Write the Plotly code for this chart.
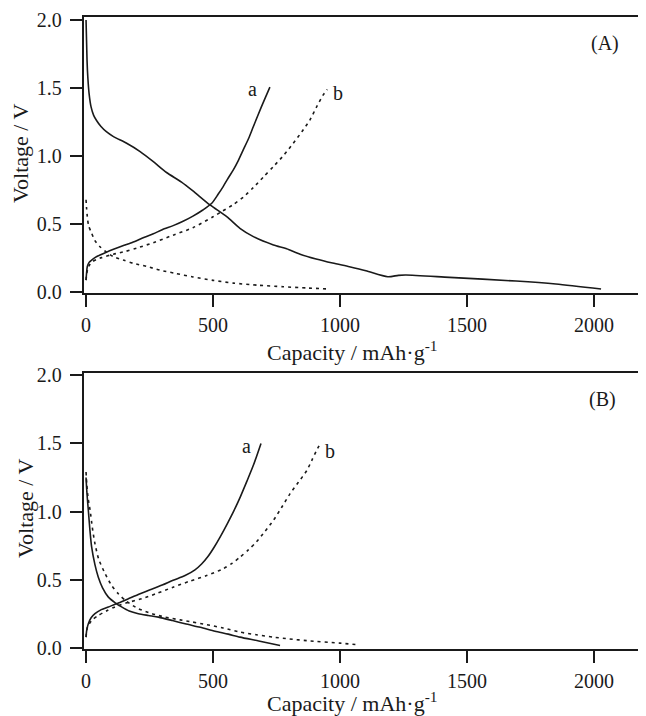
import plotly.graph_objects as go

# ---------------- data ----------------
# Panel A
a_dis_x = [0, 2, 4, 7, 12, 20, 30, 42, 58, 80, 108, 160, 213, 265, 317, 376, 421, 488, 554, 606, 659, 738, 790, 843, 906, 971, 1037, 1102, 1188, 1230, 1260, 1431, 1693, 1850, 2028]
a_dis_v = [2.0, 1.85, 1.7, 1.58, 1.46, 1.36, 1.3, 1.26, 1.22, 1.18, 1.144, 1.095, 1.034, 0.96, 0.88, 0.81, 0.745, 0.642, 0.556, 0.47, 0.409, 0.348, 0.32, 0.28, 0.245, 0.215, 0.188, 0.159, 0.115, 0.125, 0.127, 0.110, 0.083, 0.061, 0.024]

a_chg_x = [0, 2, 5, 12, 22, 35, 55, 80, 108, 150, 186, 230, 265, 300, 343, 380, 421, 460, 495, 520, 540, 560, 580, 600, 619, 640, 659, 690, 724]
a_chg_v = [0.09, 0.14, 0.19, 0.22, 0.237, 0.255, 0.274, 0.295, 0.316, 0.345, 0.37, 0.405, 0.43, 0.46, 0.49, 0.52, 0.56, 0.605, 0.654, 0.72, 0.777, 0.84, 0.90, 0.97, 1.046, 1.13, 1.218, 1.36, 1.507]

b_dis_x = [0, 2, 5, 10, 22, 35, 55, 80, 108, 150, 186, 240, 291, 350, 421, 500, 580, 680, 776, 870, 950]
b_dis_v = [0.68, 0.62, 0.556, 0.49, 0.434, 0.38, 0.335, 0.295, 0.262, 0.235, 0.213, 0.19, 0.163, 0.14, 0.113, 0.088, 0.068, 0.052, 0.041, 0.032, 0.025]

b_chg_x = [0, 3, 8, 15, 25, 40, 61, 108, 154, 200, 265, 343, 421, 500, 534, 580, 620, 659, 700, 738, 780, 816, 850, 882, 910, 934, 950]
b_chg_v = [0.09, 0.14, 0.18, 0.205, 0.225, 0.24, 0.255, 0.28, 0.30, 0.325, 0.365, 0.42, 0.475, 0.555, 0.593, 0.645, 0.70, 0.77, 0.85, 0.924, 1.01, 1.095, 1.18, 1.267, 1.37, 1.45, 1.49]

# Panel B
c_dis_x = [0, 2, 5, 9, 15, 22, 35, 48, 65, 88, 115, 140, 170, 206, 245, 285, 340, 390, 450, 508, 560, 606, 680, 764]
c_dis_v = [1.25, 1.18, 1.1, 1.01, 0.87, 0.74, 0.61, 0.52, 0.44, 0.372, 0.33, 0.30, 0.27, 0.25, 0.237, 0.225, 0.20, 0.176, 0.15, 0.122, 0.10, 0.078, 0.05, 0.017]

c_chg_x = [0, 2, 5, 9, 20, 35, 60, 88, 130, 167, 213, 245, 300, 343, 390, 429, 455, 480, 505, 530, 556, 582, 608, 634, 660, 689]
c_chg_v = [0.078, 0.12, 0.15, 0.176, 0.22, 0.25, 0.28, 0.30, 0.33, 0.36, 0.397, 0.42, 0.46, 0.495, 0.53, 0.572, 0.615, 0.67, 0.74, 0.82, 0.91, 1.005, 1.11, 1.225, 1.345, 1.50]

d_dis_x = [0, 3, 8, 16, 25, 35, 50, 75, 100, 127, 160, 206, 260, 311, 370, 416, 475, 540, 606, 670, 738, 800, 870, 1000, 1070]
d_dis_v = [1.29, 1.2, 1.1, 1.01, 0.88, 0.765, 0.65, 0.544, 0.46, 0.397, 0.34, 0.287, 0.25, 0.225, 0.205, 0.19, 0.17, 0.145, 0.115, 0.096, 0.078, 0.065, 0.052, 0.034, 0.022]

d_chg_x = [0, 3, 6, 13, 25, 48, 80, 114, 160, 219, 280, 343, 410, 475, 540, 575, 606, 640, 672, 705, 738, 770, 803, 836, 869, 890, 908, 920]
d_chg_v = [0.078, 0.13, 0.155, 0.176, 0.205, 0.237, 0.27, 0.30, 0.33, 0.36, 0.40, 0.445, 0.49, 0.53, 0.58, 0.62, 0.665, 0.72, 0.78, 0.855, 0.936, 1.03, 1.13, 1.215, 1.30, 1.38, 1.45, 1.49]

x_ticks = [0, 500, 1000, 1500, 2000]
y_ticks = [0.0, 0.5, 1.0, 1.5, 2.0]
x_title = "Capacity / mAh·g<sup>-1</sup>"
y_title = "Voltage / V"
panel_labels = ["(A)", "(B)"]

# ---------------- figure ----------------
OFF = 8                     # page body margin offset
W, H = 646 - OFF, 716 - OFF
FONT = "'Liberation Serif', 'Times New Roman', Times, serif"
INK = "#1a1a1a"
LW = 1.6
DOT = "3px,4px"

fig = go.Figure()

def add(x, y, xa, ya, dashed):
    fig.add_trace(go.Scatter(
        x=x, y=y, xaxis=xa, yaxis=ya, mode="lines",
        line=dict(color=INK, width=LW, dash=DOT if dashed else "solid",
                  shape="spline", smoothing=0.7),
        showlegend=False, hoverinfo="skip"))

add(a_dis_x, a_dis_v, "x", "y", False)
add(a_chg_x, a_chg_v, "x", "y", False)
add(b_dis_x, b_dis_v, "x", "y", True)
add(b_chg_x, b_chg_v, "x", "y", True)
add(c_dis_x, c_dis_v, "x2", "y2", False)
add(c_chg_x, c_chg_v, "x2", "y2", False)
add(d_dis_x, d_dis_v, "x2", "y2", True)
add(d_chg_x, d_chg_v, "x2", "y2", True)

def px(v):
    return (v - OFF) / W

def py(v):
    return 1 - (v - OFF) / H

xdom = [px(83.5), 1.0]

xaxis_common = dict(
    domain=xdom, range=[-10, 2205], tickvals=x_ticks, ticks="outside",
    ticklen=12, tickwidth=1.6, tickcolor=INK, showline=True, linewidth=1.6,
    linecolor=INK, mirror=True, showgrid=False, zeroline=False,
    tickfont=dict(family=FONT, size=20, color=INK), automargin=False,
    ticklabelstandoff=1,
)
yaxis_common = dict(
    tickvals=y_ticks, tickformat=".1f", ticks="outside",
    ticklen=12, tickwidth=1.6, tickcolor=INK, showline=True, linewidth=1.6,
    linecolor=INK, mirror=False, showgrid=False, zeroline=False,
    tickfont=dict(family=FONT, size=20, color=INK), automargin=False,
    ticklabelstandoff=4,
)

fig.update_layout(
    width=W, height=H, margin=dict(l=0, r=0, t=0, b=0),
    paper_bgcolor="white", plot_bgcolor="white",
    font=dict(family=FONT, color=INK),
    xaxis=dict(**xaxis_common, anchor="y"),
    yaxis=dict(**yaxis_common, range=[-0.007, 2.02],
               domain=[py(293.3), py(17.3)], anchor="x"),
    xaxis2=dict(**xaxis_common, anchor="y2"),
    yaxis2=dict(**yaxis_common, range=[-0.009, 2.015],
                domain=[py(649), py(373.3)], anchor="x2"),
)

ann = []
# axis titles
for yc in (351, 702):
    ann.append(dict(x=px(352), y=py(yc), xref="paper", yref="paper",
                    text=x_title, showarrow=False, xanchor="center",
                    yanchor="middle", font=dict(family=FONT, size=22, color=INK)))
for xc, yc in ((21, 153), (25, 508)):
    ann.append(dict(x=px(xc), y=py(yc), xref="paper", yref="paper",
                    text=y_title, showarrow=False, textangle=-90,
                    xanchor="center", yanchor="middle",
                    font=dict(family=FONT, size=22, color=INK)))
# curve labels
lab = [("a", 657, 1.49, "x", "y"), ("b", 991, 1.465, "x", "y"),
       ("a", 630, 1.48, "x2", "y2"), ("b", 961, 1.444, "x2", "y2"),
       (panel_labels[0], 2043, 1.83, "x", "y"), (panel_labels[1], 2035, 1.82, "x2", "y2")]
for t, xv, yv, xr, yr in lab:
    ann.append(dict(x=xv, y=yv, xref=xr, yref=yr, text=t, showarrow=False,
                    xanchor="center", yanchor="middle",
                    font=dict(family=FONT, size=20, color=INK)))
fig.update_layout(annotations=ann)

fig.write_html("out.html")
